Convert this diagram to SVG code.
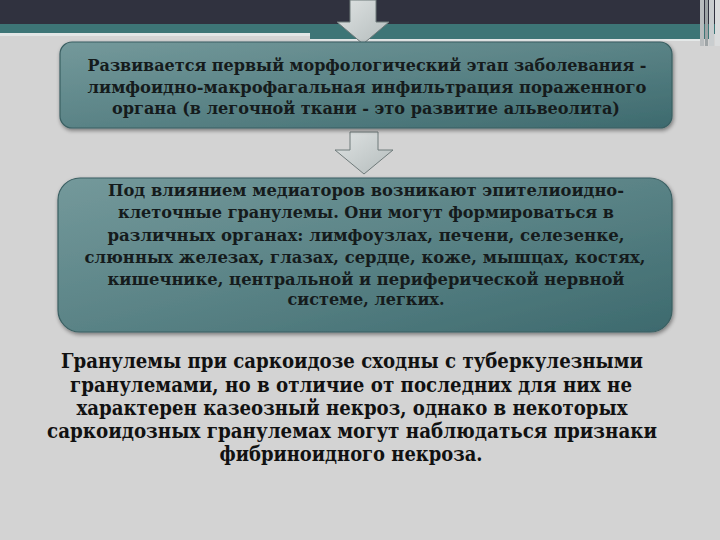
<svg xmlns="http://www.w3.org/2000/svg" width="720" height="540" viewBox="0 0 720 540">
  <defs>
    <linearGradient id="boxFill" x1="0" y1="0" x2="1" y2="1">
      <stop offset="0" stop-color="#74999b"/>
      <stop offset="0.5" stop-color="#5a8386"/>
      <stop offset="1" stop-color="#3d6a6e"/>
    </linearGradient>
    <linearGradient id="arrowFill" x1="0" y1="0" x2="1" y2="1">
      <stop offset="0" stop-color="#dfe3e3"/>
      <stop offset="1" stop-color="#b4bcbc"/>
    </linearGradient>
    <filter id="shadow" x="-5%" y="-10%" width="110%" height="130%">
      <feGaussianBlur in="SourceAlpha" stdDeviation="2"/>
      <feOffset dx="1" dy="2"/>
      <feComponentTransfer><feFuncA type="linear" slope="0.45"/></feComponentTransfer>
      <feMerge><feMergeNode/><feMergeNode in="SourceGraphic"/></feMerge>
    </filter>
  </defs>
  <style>
    .box { fill: url(#boxFill); stroke: #3a5f62; stroke-width: 1.2; filter: url(#shadow); }
    .arrow { fill: url(#arrowFill); stroke: #6f7a7a; stroke-width: 1; }
    .t { font-family: "DejaVu Serif", "Liberation Serif", serif; font-weight: bold; font-size: 17px; fill: #151b1c; text-anchor: middle; }
    .b { font-family: "DejaVu Serif", "Liberation Serif", serif; font-weight: bold; font-size: 20px; fill: #111111; text-anchor: middle; }
  </style>

  <!-- background -->
  <rect x="0" y="0" width="720" height="540" fill="#d3d3d3"/>

  <!-- header -->
  <g id="header">
    <rect x="0" y="0" width="720" height="24" fill="#30323f"/>
    <rect x="0" y="24" width="720" height="10" fill="#3d7576"/>
    <rect x="0" y="33" width="310" height="3" fill="#e2e6e6"/>
    <rect x="310" y="33" width="400" height="6" fill="#3d7576"/>
    <rect x="310" y="39" width="390" height="2" fill="#e4e8e8"/>
    <rect x="700" y="0" width="4" height="46" fill="#b8bcbe"/>
    <rect x="705" y="0" width="3" height="46" fill="#9ea4a6"/>
    <rect x="709" y="0" width="5" height="46" fill="#c9cdcf"/>
    <rect x="715" y="0" width="5" height="46" fill="#dadcdd"/>
  </g>

  <!-- connectors (block arrows) -->
  <g id="connectors">
    <path class="arrow" d="M350,0 H376 V22 H389 L363,44 L337,22 H350 Z"/>
    <path class="arrow" d="M350,132 H378 V150 H393 L364,174 L335,150 H350 Z"/>
  </g>

  <g id="node1">
    <rect class="box" x="60" y="42" width="612" height="86" rx="12" ry="12"/>
    <text class="t" x="367" y="71" textLength="559" lengthAdjust="spacingAndGlyphs">Развивается первый морфологический этап заболевания -</text>
    <text class="t" x="367" y="93" textLength="559" lengthAdjust="spacingAndGlyphs">лимфоидно-макрофагальная инфильтрация пораженного</text>
    <text class="t" x="366" y="114" textLength="508" lengthAdjust="spacingAndGlyphs">органа (в легочной ткани - это развитие альвеолита)</text>
  </g>

  <g id="node2">
    <rect class="box" x="58" y="178" width="614" height="154" rx="22" ry="22"/>
    <text class="t" x="366" y="196" textLength="516" lengthAdjust="spacingAndGlyphs">Под влиянием медиаторов возникают эпителиоидно-</text>
    <text class="t" x="366" y="218" textLength="496" lengthAdjust="spacingAndGlyphs">клеточные гранулемы. Они могут формироваться в</text>
    <text class="t" x="366" y="241" textLength="517" lengthAdjust="spacingAndGlyphs">различных органах: лимфоузлах, печени, селезенке,</text>
    <text class="t" x="365" y="263" textLength="561" lengthAdjust="spacingAndGlyphs">слюнных железах, глазах, сердце, коже, мышцах, костях,</text>
    <text class="t" x="366" y="285" textLength="517" lengthAdjust="spacingAndGlyphs">кишечнике, центральной и периферической нервной</text>
    <text class="t" x="366" y="305" textLength="157" lengthAdjust="spacingAndGlyphs">системе, легких.</text>
  </g>

  <g id="note">
    <text class="b" x="352" y="368" textLength="582" lengthAdjust="spacingAndGlyphs">Гранулемы при саркоидозе сходны с туберкулезными</text>
    <text class="b" x="351" y="392" textLength="562" lengthAdjust="spacingAndGlyphs">гранулемами, но в отличие от последних для них не</text>
    <text class="b" x="352" y="415" textLength="551" lengthAdjust="spacingAndGlyphs">характерен казеозный некроз, однако в некоторых</text>
    <text class="b" x="352" y="438" textLength="610" lengthAdjust="spacingAndGlyphs">саркоидозных гранулемах могут наблюдаться признаки</text>
    <text class="b" x="351" y="461" textLength="263" lengthAdjust="spacingAndGlyphs">фибриноидного некроза.</text>
  </g>
</svg>
